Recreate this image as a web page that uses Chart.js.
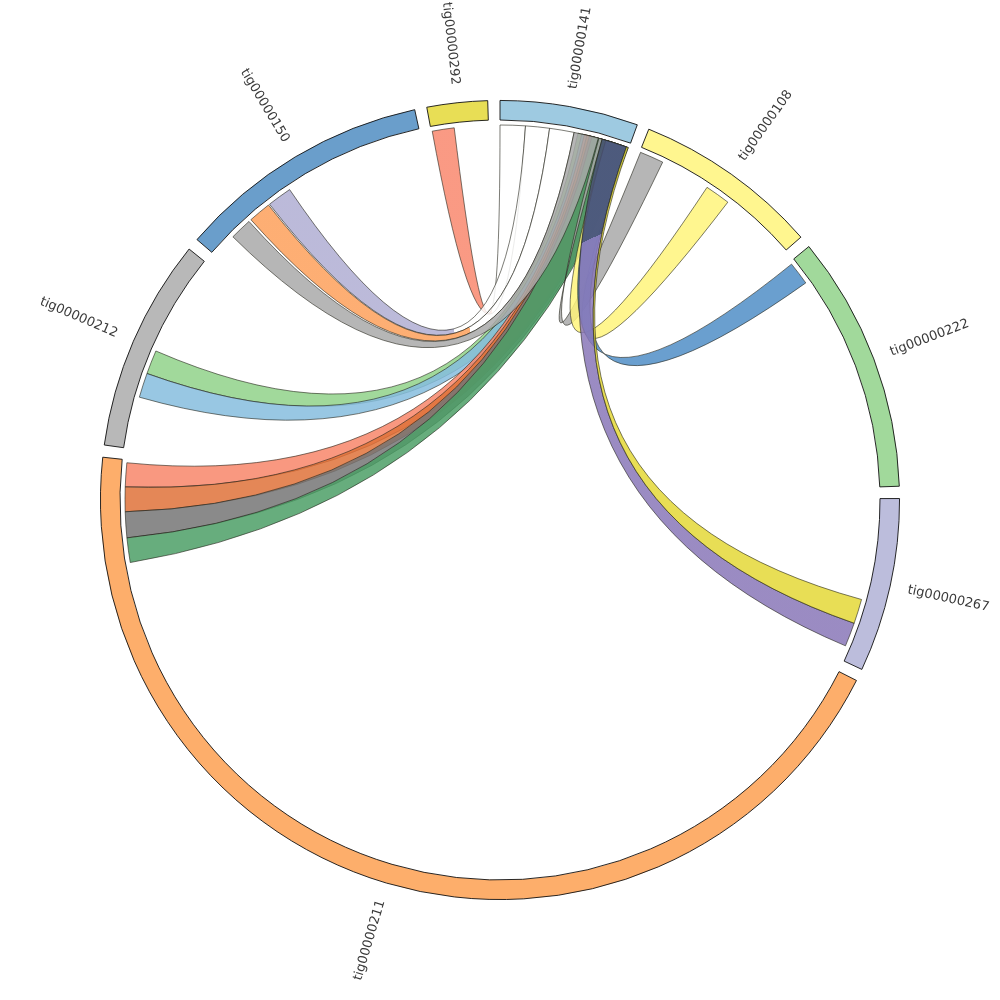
<!DOCTYPE html>
<html>
<head>
<meta charset="utf-8">
<script src="https://cdn.jsdelivr.net/npm/chart.js@4"></script>
<style>
html, body { margin: 0; padding: 0; background: #fff; }
#wrap { width: 1000px; height: 1000px; }
</style>
</head>
<body>
<div id="wrap"><canvas id="chord" width="1000" height="1000"></canvas></div>
<script>
// contigs, clockwise from the top
var contigNames = ['tig00000141', 'tig00000108', 'tig00000222', 'tig00000267', 'tig00000211', 'tig00000212', 'tig00000150', 'tig00000292'];
var contigSizes = [20.1, 27.0, 37.4, 25.3, 159.3, 31.0, 37.0, 8.8];
var contigColors = ['#9ecae1', '#fff68f', '#a1d99b', '#bcbddc', '#fdae6b', '#b8b8b8', '#6a9ecb', '#e8de55'];
var gapSize = 1.7625;

// links: [contig index, start, end] on each side (start > end means the ribbon is twisted)
var linkSource = [
  [5, 11.8, 15.5], [5, 8.0, 11.8],
  [4, 155.15, 158.85], [4, 151.35, 155.15], [4, 147.35, 151.35], [4, 143.55, 147.35],
  [7, 0.15, 3.55], [6, 11.4, 15.2], [6, 7.7, 11.2], [6, 3.9, 7.3],
  [1, 0.15, 3.85], [1, 11.65, 15.55], [2, 0.4, 4.0], [3, 19.4, 23.1], [3, 15.6, 19.4]
];
var linkTarget = [
  [0, 12.0, 17.5], [0, 12.6, 18.1],
  [0, 13.0, 19.0], [0, 13.4, 19.4], [0, 13.8, 19.8], [0, 14.2, 20.0],
  [0, 0, 3.9], [0, 3.9, 7.6], [0, 7.6, 11.4], [0, 11.4, 15.2],
  [0, 15.3, 15.8], [0, 19.9, 16.4], [0, 19.9, 16.4], [0, 15.8, 19.7], [0, 19.7, 20.0]
];
var linkColor = ['#a1d99b', '#98c7e3', '#f99880', '#e48757', '#8a8a8a', '#67ad7d',
  '#fa9a84', '#bcbada', '#fdae74', '#b6b6b6', '#b6b6b6', '#fff68f', '#6a9fcf', '#9b8bc3', '#e8de55'];
// colour of the target half, where it is not the same
var linkFade = [null, null, null, null, null, null, '#ffffff', '#ffffff', '#ffffff', null, null, null, null, '#646987', null];
var linkSplit = [0.5, 0.5, 0.5, 0.5, 0.5, 0.5, 0.55, 0.5, 0.55, 0.5, 0.5, 0.5, 0.5, 0.86, 0.5];

var ribbonAlpha = 0.85;

//ring = contigs with an empty slice after each one
var ringData = [], ringColors = [], ringBorders = [], ringLabels = [];
contigSizes.forEach(function (s, i) {
  ringData.push(s); ringColors.push(contigColors[i]); ringBorders.push(0.9); ringLabels.push(contigNames[i]);
  ringData.push(gapSize); ringColors.push('rgba(0,0,0,0)'); ringBorders.push(0); ringLabels.push('');
});

//base colour that looks like hex once drawn with ribbonAlpha over white
function tint(hex) {
  var v = [1, 3, 5].map(function (k) {
    var c = parseInt(hex.substr(k, 2), 16);
    return Math.round(Math.min(255, Math.max(0, (c - 255 * (1 - ribbonAlpha)) / ribbonAlpha)));
  });
  return 'rgba(' + v.join(',') + ',' + ribbonAlpha + ')';
}

var chordPlugin = {
  id: 'chord',
  afterDatasetsDraw: function (chart) {
    var ctx = chart.ctx;
    var arcs = chart.getDatasetMeta(0).data;
    var cx = arcs[0].x, cy = arcs[0].y;
    var r = arcs[0].innerRadius - 5;
    function angle(c, pos) {
      var a = arcs[c * 2];
      return a.startAngle + (a.endAngle - a.startAngle) * pos / contigSizes[c];
    }
    function pt(t) { return [cx + r * Math.cos(t), cy + r * Math.sin(t)]; }

    ctx.save();
    ctx.lineWidth = 0.8;
    ctx.strokeStyle = 'rgba(35,35,25,0.75)';
    linkSource.forEach(function (s, i) {
      var t = linkTarget[i];
      var a0 = angle(s[0], s[1]), a1 = angle(s[0], s[2]);
      var b0 = angle(t[0], t[1]), b1 = angle(t[0], t[2]);
      var p = pt(a0);
      ctx.beginPath();
      ctx.moveTo(p[0], p[1]);
      ctx.arc(cx, cy, r, a0, a1, a1 < a0);
      p = pt(b0);
      ctx.quadraticCurveTo(cx, cy, p[0], p[1]);
      ctx.arc(cx, cy, r, b0, b1, b1 < b0);
      p = pt(a0);
      ctx.quadraticCurveTo(cx, cy, p[0], p[1]);
      ctx.closePath();
      if (linkFade[i]) {
        var m0 = pt((a0 + a1) / 2), m1 = pt((b0 + b1) / 2);
        var g = ctx.createLinearGradient(m0[0], m0[1], m1[0], m1[1]);
        g.addColorStop(0, tint(linkColor[i]));
        g.addColorStop(linkSplit[i], tint(linkColor[i]));
        g.addColorStop(linkSplit[i], tint(linkFade[i]));
        g.addColorStop(1, tint(linkFade[i]));
        ctx.fillStyle = g;
      } else {
        ctx.fillStyle = tint(linkColor[i]);
      }
      ctx.fill();
      ctx.stroke();
    });
    ctx.restore();
  },
  afterDraw: function (chart) {
    var ctx = chart.ctx;
    var arcs = chart.getDatasetMeta(0).data;
    var cx = arcs[0].x, cy = arcs[0].y;
    var lr = arcs[0].outerRadius + 18;
    ctx.save();
    ctx.font = '13px "DejaVu Sans", sans-serif';
    ctx.fillStyle = '#3a3a3a';
    ctx.textBaseline = 'middle';
    contigNames.forEach(function (name, c) {
      var a = arcs[c * 2];
      var mid = (a.startAngle + a.endAngle) / 2;
      ctx.save();
      ctx.translate(cx + lr * Math.cos(mid), cy + lr * Math.sin(mid));
      if (mid < Math.PI / 2) {
        ctx.rotate(mid);
        ctx.textAlign = 'left';
      } else {
        ctx.rotate(mid + Math.PI);
        ctx.textAlign = 'right';
      }
      ctx.fillText(name, 0, 0);
      ctx.restore();
    });
    ctx.restore();
  }
};

new Chart(document.getElementById('chord').getContext('2d'), {
  type: 'doughnut',
  data: {
    labels: ringLabels,
    datasets: [{
      data: ringData,
      backgroundColor: ringColors,
      borderColor: '#111',
      borderWidth: ringBorders
    }]
  },
  options: {
    responsive: false,
    animation: false,
    cutout: 380,
    layout: { padding: 100 },
    plugins: {
      legend: { display: false },
      tooltip: { enabled: false }
    }
  },
  plugins: [chordPlugin]
});
</script>
</body>
</html>
